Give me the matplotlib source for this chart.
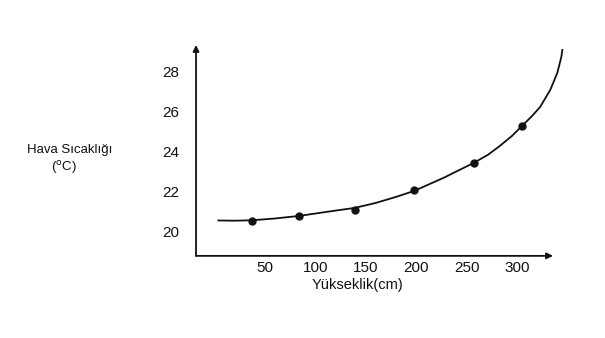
import matplotlib.pyplot as plt

# measured points (height in cm, air temperature in C)
heights = [37, 84, 139, 198, 257, 305]
temps = [20.55, 20.8, 21.1, 22.1, 23.45, 25.3]

# fitted curve
curve_x = [3.7, 20, 37, 60, 84, 111, 139, 160, 180, 198, 227, 257, 271, 283,
           295, 305, 315, 323, 333, 340, 344, 345]
curve_y = [20.57, 20.56, 20.58, 20.67, 20.8, 21.0, 21.2, 21.45, 21.75, 22.05,
           22.7, 23.45, 23.85, 24.3, 24.8, 25.3, 25.8, 26.25, 27.1, 27.95,
           28.75, 29.1]

xticks = [50, 100, 150, 200, 250, 300]
yticks = [20, 22, 24, 26, 28]

plt.rcParams['font.family'] = ['Liberation Sans', 'DejaVu Sans']

fig = plt.figure(figsize=(6.05, 3.38), dpi=100)
ax = fig.add_axes([0.324, 0.243, 0.59, 0.624])
ax.set_xlim(-18.5, 335.7)
ax.set_ylim(18.8, 29.35)

ax.plot(curve_x, curve_y, color="#111111", lw=1.3, clip_on=False)
ax.plot(heights, temps, "o", color="#111111", ms=5, clip_on=False)

for s in ax.spines.values():
    s.set_visible(False)
ax.annotate("", xy=(0, 1), xytext=(0, 0), xycoords="axes fraction",
            arrowprops=dict(arrowstyle="-|>", color="#111111", lw=1.3,
                            mutation_scale=9, shrinkA=0, shrinkB=0))
ax.annotate("", xy=(1, 0), xytext=(0, 0), xycoords="axes fraction",
            arrowprops=dict(arrowstyle="-|>", color="#111111", lw=1.3,
                            mutation_scale=9, shrinkA=0, shrinkB=0))

ax.set_xticks(xticks)
ax.set_yticks(yticks)
ax.tick_params(length=0, labelsize=11, labelcolor="#111111")
ax.tick_params(axis="y", pad=12)
ax.tick_params(axis="x", pad=4)

fig.text(357 / 605, 1 - 285 / 338, "Yükseklik(cm)", ha="center", va="center",
         fontsize=10.5, color="#111111")
fig.text(70 / 605, 1 - 150 / 338, "Hava Sıcaklığı", ha="center", va="center",
         fontsize=9.5, color="#111111")
fig.text(64 / 605, 1 - 168 / 338, "($^{\\mathrm{o}}$C)", ha="center", va="center",
         fontsize=9.5, color="#111111")

plt.savefig("out.png", dpi=100, facecolor="white")
